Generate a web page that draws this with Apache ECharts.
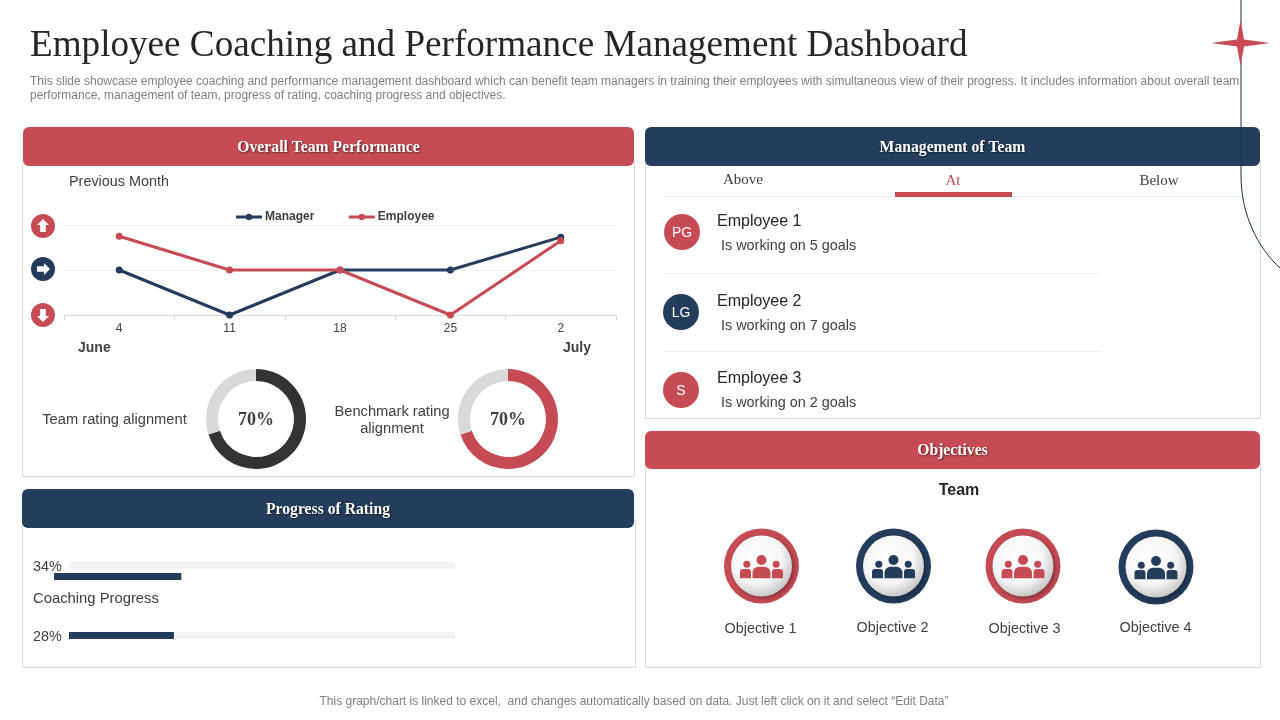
<!DOCTYPE html>
<html>
<head>
<meta charset="utf-8">
<title>Employee Coaching and Performance Management Dashboard</title>
<style>
  html, body { margin:0; padding:0; background:#fff; }
  #main { width:1280px; height:720px; }
</style>
<script src="https://cdn.jsdelivr.net/npm/echarts@6/dist/echarts.min.js"></script>
</head>
<body>
<div id="main"></div>
<script>
// data
const weeks = ["4","11","18","25","2"];
const managerValues = [1, 0, 1, 1, 1.73];
const employeeValues = [1.75, 1, 1, 0, 1.65];
const teamAlignment = [70, 30];
const benchmarkAlignment = [70, 30];
const progressValues = [34, 28];
const progressTrack = [103, 103];
const tabs = ["Above", "At", "Below"];
const employees = ["Employee 1", "Employee 2", "Employee 3"];
const initials = ["PG", "LG", "S"];
const goals = [5, 7, 2];
const objectives = ["Objective 1", "Objective 2", "Objective 3", "Objective 4"];

const RED = "#c64b55", NAVY = "#243d5c", TXT = "#404040", SANS = '"Liberation Sans"', SERIF = '"Liberation Serif"';

// helpers for the slide furniture
function label(x, y, text, size, opt) {
  opt = opt || {};
  return { type:"text", z:20, style:{
    x, y:y+1, text, fill:opt.color||TXT, align:opt.align||"left", verticalAlign:"middle",
    font:(opt.bold?"bold ":"")+size+"px "+(opt.family||SANS),
    textShadowColor:opt.shadow?"rgba(0,0,0,.55)":"transparent", textShadowBlur:opt.shadow?2:0, textShadowOffsetX:opt.shadow?1:0, textShadowOffsetY:opt.shadow?1:0
  }};
}
function rect(x, y, w, h, fill, r) {
  return { type:"rect", z:2, shape:{x, y, width:w, height:h, r:r||0}, style:{fill} };
}
function frame(x, y, w, h) {
  return { type:"rect", z:1, shape:{x:x+.5, y:y+.5, width:w, height:h}, style:{fill:"#fff", stroke:"#d9d9d9", lineWidth:1} };
}
function header(x, y, w, h, fill, text) {
  return [rect(x, y, w, h, fill, 6), label(x+w/2, y+h/2, text, 15.7, {color:"#fff", bold:true, family:SERIF, align:"center", shadow:true})];
}
function arrowIcon(cy, fill, rot) {
  return [
    { type:"circle", z:3, shape:{cx:43, cy, r:12}, style:{fill} },
    { type:"polygon", z:4, x:43, y:cy, rotation:rot,
      shape:{points:[[0,-7],[6,-1],[2.8,-1],[2.8,6],[-2.8,6],[-2.8,-1],[-6,-1]]}, style:{fill:"#fff"} }
  ];
}
function people(cx, cy, fill) {
  const bits = [];
  [[0,-6,5],[-14.7,-1.7,3.5],[14.7,-1.7,3.5]].forEach(h => bits.push({ type:"circle", z:6, shape:{cx:cx+h[0], cy:cy+h[1], r:h[2]}, style:{fill} }));
  bits.push({ type:"rect", z:6, shape:{x:cx-9, y:cy+.7, width:18, height:11.5, r:[6,6,0,0]}, style:{fill} });
  bits.push({ type:"rect", z:5, shape:{x:cx-21.5, y:cy+3, width:11, height:9.2, r:[3,3,0,0]}, style:{fill} });
  bits.push({ type:"rect", z:5, shape:{x:cx+10.5, y:cy+3, width:11, height:9.2, r:[3,3,0,0]}, style:{fill} });
  return bits;
}
function badge(cx, cy, fill) {
  return [
    { type:"circle", z:3, shape:{cx, cy, r:37.5}, style:{fill} },
    { type:"circle", z:4, shape:{cx, cy, r:30.5}, style:{
        fill:{type:"radial", x:.42, y:.38, r:.68, colorStops:[{offset:0,color:"#ffffff"},{offset:.6,color:"#f6f6f6"},{offset:1,color:"#bdbdbd"}]},
        shadowColor:"rgba(0,0,0,.35)", shadowBlur:5, shadowOffsetX:2, shadowOffsetY:2 } },
    ...people(cx, cy, fill)
  ];
}

const graphics = [
  label(30, 45, "Employee Coaching and Performance Management Dashboard", 37.15, {family:SERIF, color:"#262626"}),
  label(30, 81, "This slide showcase employee coaching and performance management dashboard which can benefit team managers in training their employees with simultaneous view of their progress. It includes information about overall team", 12, {color:"#7f7f7f"}),
  label(30, 95, "performance, management of team, progress of rating, coaching progress and objectives.", 12, {color:"#7f7f7f"}),
  frame(22, 160, 612, 316), frame(22, 520, 613, 147), frame(645, 160, 615, 258), frame(645, 462, 615, 205),
  ...header(23, 127, 611, 39, RED, "Overall Team Performance"),
  ...header(22, 489, 612, 39, NAVY, "Progress of Rating"),
  ...header(645, 127, 615, 39, NAVY, "Management of Team"),
  ...header(645, 431, 615, 38, RED, "Objectives"),
  label(69, 181, "Previous Month", 14.4),
  ...arrowIcon(226, RED, 0), ...arrowIcon(269, NAVY, -Math.PI/2), ...arrowIcon(315, RED, Math.PI),
  label(78, 347, "June", 14, {bold:true}), label(563, 347, "July", 14, {bold:true}),
  label(114.5, 419, "Team rating alignment", 14.7, {align:"center"}),
  label(392, 411, "Benchmark rating", 14.7, {align:"center"}), label(392, 428, "alignment", 14.7, {align:"center"}),
  label(33, 566, progressValues[0]+"%", 14.4), label(33, 598, "Coaching Progress", 14.8), label(33, 636, progressValues[1]+"%", 14.4),
  rect(664, 196, 576, 1, "#eeeeee"), rect(895, 192, 117, 5, RED),
  rect(664, 273, 437, 1, "#eeeeee"), rect(664, 351, 437, 1, "#eeeeee"),
  label(959, 490, "Team", 16, {bold:true, align:"center", color:"#262626"}),
  label(634, 701, "This graph/chart is linked to excel,  and changes automatically based on data. Just left click on it and select “Edit Data”", 12, {align:"center", color:"#7f7f7f"})
];

[743, 953, 1159].forEach((x, i) => graphics.push(label(x, i ? 180 : 179, tabs[i], 15, {family:SERIF, align:"center", color:i===1?RED:TXT})));
[[682,232,18,RED,221,245],[681,312,18,NAVY,301,325],[681,390,18,RED,378,402]].forEach((e, i) => {
  graphics.push({ type:"circle", z:3, shape:{cx:e[0], cy:e[1], r:e[2]}, style:{fill:e[3]} });
  graphics.push(label(e[0], e[1], initials[i], 14, {color:"#fff", align:"center"}));
  graphics.push(label(717, e[4], employees[i], 16, {color:"#262626"}));
  graphics.push(label(721, e[5], "Is working on "+goals[i]+" goals", 14.4));
});
[[761.5,566,RED,760.5,628],[893.5,566,NAVY,892.5,627],[1023,566,RED,1024.5,628],[1156,567,NAVY,1155.5,627]].forEach((o, i) => {
  graphics.push(...badge(o[0], o[1], o[2]));
  graphics.push(label(o[3], o[4], objectives[i], 14.4, {align:"center"}));
});
// star and thin curve from the slide template
graphics.push({ type:"line", z:30, shape:{x1:1241, y1:0, x2:1241, y2:175}, style:{stroke:"#1d3148", lineWidth:1} });
graphics.push({ type:"bezierCurve", z:30, shape:{x1:1241, y1:175, cpx1:1241, cpy1:215, cpx2:1258, cpy2:248, x2:1280, y2:268}, style:{fill:"none", stroke:"#1d3148", lineWidth:1} });
graphics.push({ type:"polygon", z:31, shape:{points:[[1240.5,20],[1244,39.5],[1270,43],[1244,46.5],[1240.5,66],[1237,46.5],[1211,43],[1237,39.5]]}, style:{fill:RED} });

// hidden axes for the three progress rows
const progressGrids = [
  {left:69, top:562, width:386, height:7},
  {left:54, top:573, width:386, height:7},
  {left:69, top:632, width:386, height:7}
];
const hiddenX = i => ({ gridIndex:i, type:"value", min:0, max:103, show:false });
const hiddenY = i => ({ gridIndex:i, type:"category", data:["Coaching Progress"], show:false });
const trackBar = (i) => ({ type:"bar", xAxisIndex:i, yAxisIndex:i, data:[progressTrack[0]], barWidth:7, barGap:"-100%", silent:true, itemStyle:{color:"#f2f2f2"} });
const valueBar = (i, v) => ({ type:"bar", xAxisIndex:i, yAxisIndex:i, data:[v], barWidth:7, barGap:"-100%", itemStyle:{color:NAVY}, z:3 });

function donut(cx, values, color) {
  return { type:"pie", center:[cx, 419], radius:[38, 50], silent:true,
    label:{show:true, position:"center", formatter:"{c}%", fontFamily:SERIF, fontWeight:"bold", fontSize:18, color:TXT, offset:[0,1]},
    labelLine:{show:false},
    data:[
      {value:values[0], itemStyle:{color}},
      {value:values[1], itemStyle:{color:"#d9d9d9"}, label:{show:false}}
    ] };
}

const chart = echarts.init(document.getElementById("main"), null, {renderer:"canvas"});
chart.setOption({
  animation:false,
  backgroundColor:"#fff",
  textStyle:{fontFamily:SANS},
  graphic:{elements:graphics},
  legend:{ left:234.5, top:211, padding:0, itemWidth:26, itemHeight:8, itemGap:33, z:10,
    data:["Manager","Employee"], lineStyle:{width:3},
    textStyle:{fontFamily:SANS, fontSize:12, fontWeight:"bold", color:TXT, padding:[0,0,0,-2]} },
  grid:[{left:64, top:225, width:552, height:90}].concat(progressGrids),
  xAxis:[
    { gridIndex:0, z:5, type:"category", data:weeks, boundaryGap:true,
      axisLine:{lineStyle:{color:"#d9d9d9"}}, axisTick:{show:true, lineStyle:{color:"#d9d9d9"}},
      axisLabel:{color:TXT, fontSize:12, margin:8} },
    hiddenX(1), hiddenX(2), hiddenX(3)
  ],
  yAxis:[
    { gridIndex:0, z:5, type:"value", min:0, max:2, interval:1, axisLabel:{show:false}, axisLine:{show:false}, axisTick:{show:false},
      splitLine:{lineStyle:{color:"#f0f0f0"}} },
    hiddenY(1), hiddenY(2), hiddenY(3)
  ],
  series:[
    { name:"Manager", type:"line", data:managerValues, symbol:"circle", symbolSize:7, lineStyle:{width:3, color:NAVY}, itemStyle:{color:NAVY}, z:6 },
    { name:"Employee", type:"line", data:employeeValues, symbol:"circle", symbolSize:7, lineStyle:{width:3, color:RED}, itemStyle:{color:RED}, z:7 },
    donut(256, teamAlignment, "#333333"),
    donut(508, benchmarkAlignment, RED),
    trackBar(1),
    valueBar(2, progressValues[0]),
    trackBar(3),
    valueBar(3, progressValues[1])
  ]
});
</script>
</body>
</html>
